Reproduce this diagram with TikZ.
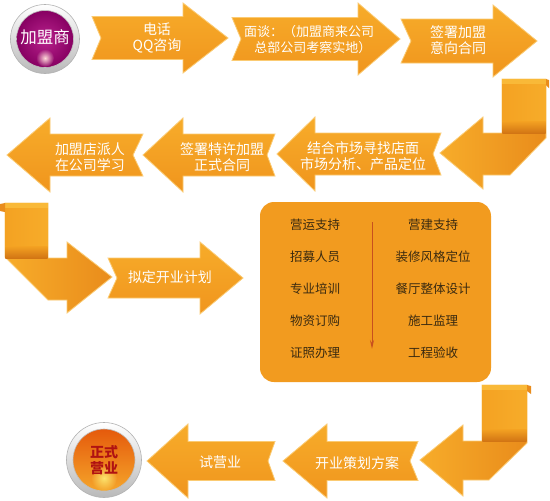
\documentclass[tikz,border=0pt]{standalone}
\usepackage{fontspec}
\newfontfamily\cjk{Noto Sans CJK SC}
\usetikzlibrary{fadings,arrows.meta}
\tikzfading[name=glowfade, inner color=transparent!0, outer color=transparent!100]
\definecolor{ArrTop}{HTML}{F7AC2A}
\definecolor{ArrBot}{HTML}{F0951D}
\definecolor{ArrEdge}{HTML}{FBCB73}
\definecolor{BoxC}{HTML}{F29B1F}
\definecolor{BoxTxt}{HTML}{3A2A10}
\definecolor{LineC}{HTML}{C8501E}
\definecolor{PurIn}{HTML}{B8228C}
\definecolor{PurOut}{HTML}{870062}
\definecolor{OrTop}{HTML}{E55A0C}
\definecolor{OrBot}{HTML}{F5A52A}
\definecolor{RedTxt}{HTML}{B01212}
\definecolor{FoldC}{HTML}{E98C1B}
\definecolor{FoldDark}{HTML}{D27514}
\definecolor{CurlC}{HTML}{F9B938}
\definecolor{StripC}{HTML}{F4A222}
\newcommand\ArrShape[8]{%
  \path[#8] (#1,#5-#6) -- (#3,#5-#6) -- (#3,#5-#7) -- (#4,#5) -- (#3,#5+#7)
    -- (#3,#5+#6) -- (#1,#5+#6) -- (#2,#5) -- cycle;}
\tikzset{
  arrshape/.style={top color=ArrTop, bottom color=ArrBot, draw=ArrEdge, line width=0.8pt, line join=miter},
  bentshape/.style={left color=ArrTop, right color=FoldC, draw=ArrEdge, line width=0.8pt, line join=miter},
  stripfill/.style={left color=StripC, right color=ArrTop},
  foldband/.style={top color=StripC, bottom color=FoldDark},
  arrtext/.style={text=white, font=\cjk\fontsize{14}{16}\selectfont, align=center, inner sep=0pt},
  smalltext/.style={text=white, font=\cjk\fontsize{13}{15.5}\selectfont, align=center, inner sep=0pt},
  boxtext/.style={text=BoxTxt, font=\cjk\fontsize{12.5}{14}\selectfont, inner sep=0pt},
}
\begin{document}
\begin{tikzpicture}[x=1pt,y=-1pt]
\useasboundingbox (0,0) rectangle (550,501);
\fill[white] (0,0) rectangle (550,501);

% ---- start circle
\shade[top color=white, bottom color=gray!55, draw=gray!60, line width=0.6pt] (45,39) circle (34.5pt);
\shade[inner color=PurIn, outer color=PurOut, draw=gray!50, line width=0.6pt] (45,39) circle (28.5pt);
\fill[pink!60!white, path fading=glowfade] (45,58) circle (9pt);
\node[text=white, font=\cjk\fontsize{16.5}{18}\selectfont, inner sep=0pt] (jms) at (45,37) {加盟商};

% ---- row 1
\ArrShape{92}{101}{183}{228}{38}{21.5}{35}{arrshape}
\node[arrtext] (a1) at (157,38) {电话\\QQ咨询};
\ArrShape{232}{241}{358}{400}{39}{21.5}{36}{arrshape}
\node[smalltext] (a2) at (309,39.5) {面谈：（加盟商来公司\\\hspace*{0.6em}总部公司考察实地）};
\ArrShape{401}{411}{493}{537}{41}{22}{36}{arrshape}
\node[arrtext] (a3) at (458,40) {签署加盟\\意向合同};

% ---- bent arrow right (row 2)
\path[bentshape] (440,153) -- (483,117) -- (483,133) -- (502,133) -- (502,79) -- (546,79)
  -- (546,138) -- (510,175) -- (483,175) -- (483,189) -- cycle;
\shade[stripfill] (502.4,79.4) rectangle (545.6,121);
\shade[foldband] (502.4,121) rectangle (545.6,133);
\fill[CurlC] (502.4,79.4) rectangle (545.6,84);
\fill[FoldC] (546,79) -- (549,80) -- (549,88) -- (546,85) -- cycle;

% ---- row 2
\ArrShape{441}{433}{315}{277}{154}{21}{37}{arrshape}
\node[arrtext] (b1) at (363,156) {结合市场寻找店面\\市场分析、产品定位};
\ArrShape{275}{267}{183}{143}{155}{21}{37}{arrshape}
\node[arrtext] (b2) at (222,157) {签署特许加盟\\正式合同};
\ArrShape{143}{133}{50}{7}{155}{21}{37}{arrshape}
\node[arrtext] (b3) at (90,157) {加盟店派人\\在公司学习};

% ---- bent arrow left (row 3)
\path[bentshape] (5,203) -- (48,203) -- (48,258) -- (67,258) -- (67,242) -- (112,277)
  -- (67,313) -- (67,300) -- (48,300) -- (5,257) -- cycle;
\shade[stripfill] (5.4,203.4) rectangle (47.6,246);
\shade[foldband] (5.4,246) rectangle (47.6,258);
\fill[CurlC] (5.4,203.4) rectangle (47.6,208);
\fill[FoldC] (5,203) -- (0,204) -- (0,211) -- (5,212) -- cycle;

% ---- row 3
\ArrShape{108}{117}{200}{243}{278}{20}{36}{arrshape}
\node[arrtext] (c1) at (170,277) {拟定开业计划};

% ---- box
\node[fill=BoxC, rounded corners=14pt, minimum width=231pt, minimum height=180pt, inner sep=0pt] (box) at (375.5,292) {};
\node[boxtext] (l1) at (315,225) {营运支持};
\node[boxtext] (l2) at (315,257) {招募人员};
\node[boxtext] (l3) at (315,289) {专业培训};
\node[boxtext] (l4) at (315,321) {物资订购};
\node[boxtext] (l5) at (315,353) {证照办理};
\node[boxtext] (r1) at (433,225) {营建支持};
\node[boxtext] (r2) at (433,257) {装修风格定位};
\node[boxtext] (r3) at (433,289) {餐厅整体设计};
\node[boxtext] (r4) at (433,321) {施工监理};
\node[boxtext] (r5) at (433,353) {工程验收};
\coordinate (ltop) at (372,222);
\coordinate (lbot) at (372,349);
\draw[LineC, line width=1pt, -{Stealth[length=9pt,width=4pt]}] (ltop) -- (lbot);

% ---- bent arrow right (row 4)
\path[bentshape] (420,460) -- (463,425) -- (463,441) -- (482,441) -- (482,385) -- (527,385)
  -- (527,443) -- (489,480) -- (463,480) -- (463,496) -- cycle;
\shade[stripfill] (482.4,385.4) rectangle (526.6,429);
\shade[foldband] (482.4,429) rectangle (526.6,441);
\fill[CurlC] (482.4,385.4) rectangle (526.6,390);
\fill[FoldC] (527,385) -- (531,386) -- (531,394) -- (527,391) -- cycle;

% ---- row 4
\ArrShape{418}{410}{327}{283}{461}{19.5}{37}{arrshape}
\node[arrtext] (d1) at (357,463) {开业策划方案};
\ArrShape{275}{268}{188}{147}{461}{19.5}{37}{arrshape}
\node[arrtext] (d2) at (220,462) {试营业};

% ---- end circle
\shade[top color=white, bottom color=gray!55, draw=gray!60, line width=0.6pt] (104,460) circle (37.5pt);
\shade[top color=OrTop, bottom color=OrBot, draw=gray!50, line width=0.6pt] (104,460) circle (31pt);
\fill[yellow!50!white, opacity=0.8, path fading=glowfade] (104,478) circle (13pt);
\node[text=RedTxt, font=\cjk\bfseries\fontsize{14}{15.5}\selectfont, align=center, inner sep=0pt] (zsyy) at (104,460) {正式\\营业};
\end{tikzpicture}
\end{document}
